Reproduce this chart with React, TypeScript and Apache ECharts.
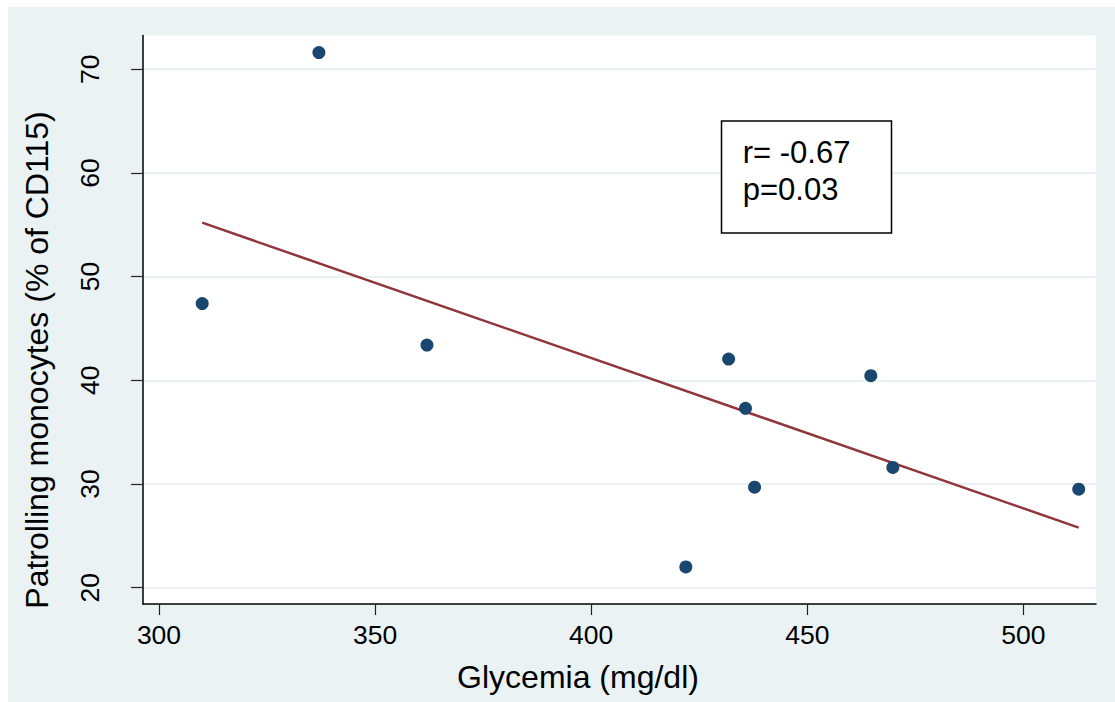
import React, { useEffect, useRef } from "react";
import * as echarts from "echarts";

// Data
const glycemia = [310.0, 337.0, 362.0, 421.9, 431.8, 435.7, 437.8, 464.7, 469.8, 512.8];
const monocytes = [47.4, 71.6, 43.4, 22.0, 42.05, 37.3, 29.7, 40.45, 31.6, 29.5];
const fitLineX = [310.0, 512.8];
const fitLineY = [55.2, 25.8];
const xTicks = [300, 350, 400, 450, 500];
const yTicks = [20, 30, 40, 50, 60, 70];
const xTitle = "Glycemia (mg/dl)";
const yTitle = "Patrolling monocytes (% of CD115)";
const annotation = ["r= -0.67", "p=0.03"];

const FONT = "'Liberation Sans', Arial, Helvetica, sans-serif";

export default function App() {
  const ref = useRef<HTMLDivElement>(null);

  useEffect(() => {
    if (!ref.current) return;
    const chart = echarts.init(ref.current, undefined, { renderer: "svg" });
    const points = glycemia.map((x, i) => [x, monocytes[i]]);
    const fit = fitLineX.map((x, i) => [x, fitLineY[i]]);
    chart.setOption({
      animation: false,
      backgroundColor: "#eaf2f3",
      textStyle: { fontFamily: FONT },
      grid: {
        left: 135,
        right: 19,
        top: 28.5,
        bottom: 98,
        show: true,
        backgroundColor: "#ffffff",
        borderWidth: 0,
      },
      xAxis: {
        type: "value",
        min: 296.3,
        max: 516.8,
        axisLine: { show: true, onZero: false, lineStyle: { color: "#000", width: 1.5 } },
        axisTick: { show: true, length: 11, customValues: xTicks, lineStyle: { color: "#222", width: 1.2 } },
        axisLabel: { customValues: xTicks, fontSize: 26.5, color: "#000", margin: 17, fontFamily: FONT },
        splitLine: { show: false },
      },
      yAxis: {
        type: "value",
        min: 18.43,
        max: 73.25,
        axisLine: { show: true, onZero: false, lineStyle: { color: "#000", width: 1.5 } },
        axisTick: { show: true, length: 12, customValues: yTicks, lineStyle: { color: "#222", width: 1.2 } },
        axisLabel: { customValues: yTicks, fontSize: 26.5, color: "#000", margin: 40, rotate: 90, fontFamily: FONT },
        splitLine: { show: true, lineStyle: { color: "#eaf2f3", width: 2 } },
      },
      series: [
        {
          type: "scatter",
          data: points,
          symbol: "circle",
          symbolSize: 13,
          itemStyle: { color: "#1a476f", opacity: 1 },
          z: 3,
        },
        {
          type: "line",
          data: fit,
          showSymbol: false,
          symbol: "none",
          lineStyle: { color: "#90353b", width: 2.5, opacity: 1 },
          z: 2,
        },
      ],
      graphic: [
        {
          type: "text",
          x: 570,
          y: 670,
          style: {
            text: xTitle,
            fontSize: 32,
            fontFamily: FONT,
            fill: "#000",
            textAlign: "center",
            textVerticalAlign: "middle",
          },
        },
        {
          type: "text",
          x: 28.5,
          y: 353,
          rotation: Math.PI / 2,
          style: {
            text: yTitle,
            fontSize: 32,
            fontFamily: FONT,
            fill: "#000",
            textAlign: "center",
            textVerticalAlign: "middle",
          },
        },
        {
          type: "rect",
          shape: { x: 713.5, y: 114, width: 170, height: 112 },
          style: { fill: "#ffffff", stroke: "#000", lineWidth: 1.5 },
          z: 10,
        },
        {
          type: "text",
          x: 734.7,
          y: 145,
          z: 11,
          style: {
            text: annotation[0],
            fontSize: 31,
            fontFamily: FONT,
            fill: "#000",
            textAlign: "left",
            textVerticalAlign: "middle",
          },
        },
        {
          type: "text",
          x: 734.7,
          y: 182.7,
          z: 11,
          style: {
            text: annotation[1],
            fontSize: 31,
            fontFamily: FONT,
            fill: "#000",
            textAlign: "left",
            textVerticalAlign: "middle",
          },
        },
      ],
    });
    return () => chart.dispose();
  }, []);

  return (
    <div
      ref={ref}
      style={{ position: "absolute", left: 8, top: 7, width: 1107, height: 695 }}
    />
  );
}
